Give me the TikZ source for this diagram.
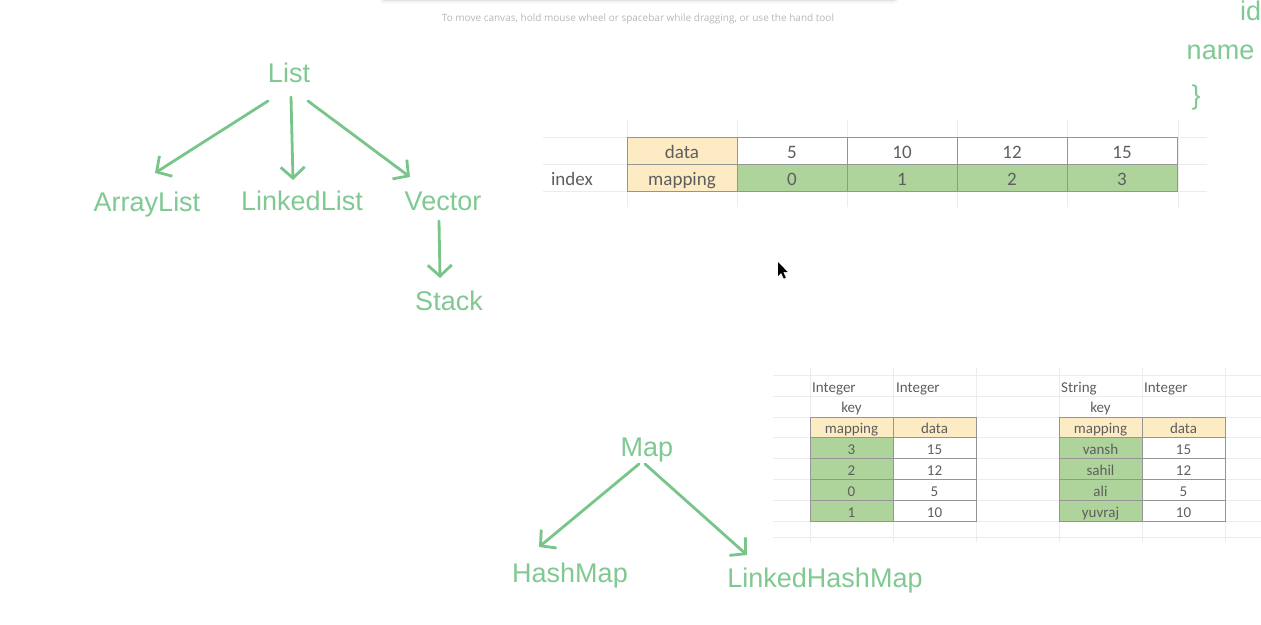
\documentclass[tikz,border=0pt]{standalone}
\usepackage{fontspec}
\setmainfont{Liberation Sans}
\newfontfamily\tabfont{Carlito}
\newfontfamily\hintfont{Open Sans}
\usetikzlibrary{arrows.meta,calc}
\definecolor{tgreen}{RGB}{128,201,146}
\definecolor{agreen}{RGB}{120,197,138}
\definecolor{cyel}{HTML}{FDEBC4}
\definecolor{cgrn}{HTML}{AFD49B}
\definecolor{cbord}{HTML}{959595}
\definecolor{ctext}{HTML}{5E5E5E}
\definecolor{faint}{HTML}{ECECEC}
\definecolor{hintgray}{HTML}{B8B8B8}
\begin{document}
\begin{tikzpicture}[x=1pt,y=-1pt,
  lbl/.style={text=tgreen, font=\fontsize{27}{27}\selectfont, inner sep=0pt, anchor=base},
  arr/.style={draw=agreen, line width=2.8pt, line cap=round, line join=round,
    -{Straight Barb[length=11pt,width=24pt,line width=2.8pt]}},
  gridline/.style={draw=faint, line width=0.8pt},
  bigcell/.style={draw=cbord, line width=0.9pt, inner sep=0pt, text=ctext,
    font=\tabfont\fontsize{19}{19}\selectfont, minimum width=110pt, minimum height=27pt,
    text height=16pt, text depth=1pt},
  smallcell/.style={draw=cbord, line width=0.9pt, inner sep=0pt, text=ctext,
    font=\tabfont\fontsize{15}{15}\selectfont, minimum width=83pt, minimum height=20.8pt,
    text height=13pt, text depth=0pt},
  tabtxt/.style={inner sep=0pt, text=ctext, font=\tabfont\fontsize{15}{15}\selectfont},
]
\useasboundingbox (0,0) rectangle (1261,624);
\fill[white] (0,0) rectangle (1261,624);

% toolbar shadow and hint
\foreach \w/\o in {10/0.025,6/0.035,3/0.05}
  \draw[line width=\w pt, draw=black, opacity=\o, line cap=round] (384,-1) -- (894,-1);
\node[font=\hintfont\fontsize{10}{10}\selectfont, text=hintgray, inner sep=0pt] (hint) at (638,19)
  {To move canvas, hold mouse wheel or spacebar while dragging, or use the hand tool};

% faint spreadsheet grid (top)
\foreach \y in {137,164,191} \draw[gridline] (543,\y) -- (1207,\y);
\foreach \x in {627,737,847,957,1067,1178} \draw[gridline] (\x,120) -- (\x,207);
% faint spreadsheet grid (bottom)
\foreach \y in {375,396,417,437.8,458.6,479.4,500.2,521,537} \draw[gridline] (773,\y) -- (1261,\y);
\foreach \x in {810,893,976,1059,1142,1225} \draw[gridline] (\x,368) -- (\x,542);

% tree: List
\node[lbl] (List) at (289,82) {List};
\node[lbl] (ArrayList) at (147,211) {ArrayList};
\node[lbl] (LinkedList) at (302,210) {LinkedList};
\node[lbl] (Vector) at (443,210) {Vector};
\node[lbl] (Stack) at (449,310) {Stack};
\draw[arr] ([shift={(-21,19)}]List.base) -- ([shift={(8,-38)}]ArrayList.base);
\draw[arr] ([shift={(2,15)}]List.base) -- ([shift={(-9,-30)}]LinkedList.base);
\draw[arr] ([shift={(19,19)}]List.base) -- ([shift={(-33,-33)}]Vector.base);
\draw[arr] ([shift={(-4,11)}]Vector.base) -- ([shift={(-9,-32)}]Stack.base);

% tree: Map
\node[lbl] (Map) at (647,456) {Map};
\node[lbl] (HashMap) at (570,582) {HashMap};
\node[lbl] (LinkedHashMap) at (825,587) {LinkedHashMap};
\draw[arr] ([shift={(-8,8)}]Map.base) -- ([shift={(-31,-35)}]HashMap.base);
\draw[arr] ([shift={(-2,8)}]Map.base) -- ([shift={(-78,-32)}]LinkedHashMap.base);

% top-right fragment
\node[lbl] (idtxt) at (1250.5,20) {id};
\node[lbl] (nametxt) at (1220.5,59) {name};
\node[lbl] (brace) at (1196,104) {\}};

% top table
\node[bigcell, fill=cyel] (hdata) at (682,150.5) {data};
\node[bigcell, fill=cyel] (hmap) at (682,177.5) {mapping};
\foreach \v [count=\n] in {5,10,12,15}
  \node[bigcell, fill=white] (d\n) at ({737+110*(\n-1)+55},150.5) {\v};
\foreach \v [count=\n] in {0,1,2,3}
  \node[bigcell, fill=cgrn] (m\n) at ({737+110*(\n-1)+55},177.5) {\v};
\node[inner sep=0pt, text=ctext, font=\tabfont\fontsize{19}{19}\selectfont,
  text height=16pt, text depth=1pt] (idx) at (572,177.5) {index};

% bottom-left table
\node[tabtxt, anchor=base west] (Lt1) at (812,392) {Integer};
\node[tabtxt, anchor=base west] (Lt2) at (896,392) {Integer};
\node[tabtxt, anchor=base] (Lkey) at (851.5,412) {key};
\node[smallcell, fill=cyel] (Lh1) at (851.5,427.4) {mapping};
\node[smallcell, fill=cyel] (Lh2) at (934.5,427.4) {data};
\foreach \k/\v [count=\n] in {3/15,2/12,0/5,1/10} {
  \node[smallcell, fill=cgrn] (Lk\n) at (851.5,{427.4+20.8*\n}) {\k};
  \node[smallcell, fill=white] (Lv\n) at (934.5,{427.4+20.8*\n}) {\v};
}

% bottom-right table
\node[tabtxt, anchor=base west] (Rt1) at (1061,392) {String};
\node[tabtxt, anchor=base west] (Rt2) at (1144,392) {Integer};
\node[tabtxt, anchor=base] (Rkey) at (1100.5,412) {key};
\node[smallcell, fill=cyel] (Rh1) at (1100.5,427.4) {mapping};
\node[smallcell, fill=cyel] (Rh2) at (1183.5,427.4) {data};
\foreach \k/\v [count=\n] in {vansh/15,sahil/12,ali/5,yuvraj/10} {
  \node[smallcell, fill=cgrn] (Rk\n) at (1100.5,{427.4+20.8*\n}) {\k};
  \node[smallcell, fill=white] (Rv\n) at (1183.5,{427.4+20.8*\n}) {\v};
}

% mouse cursor
\fill[black] (778,262) -- (778,276) -- (781.2,273) -- (783.8,278.6) -- (785.8,277.7) -- (783.3,272.2) -- (787.6,272) -- cycle;
\end{tikzpicture}
\end{document}
